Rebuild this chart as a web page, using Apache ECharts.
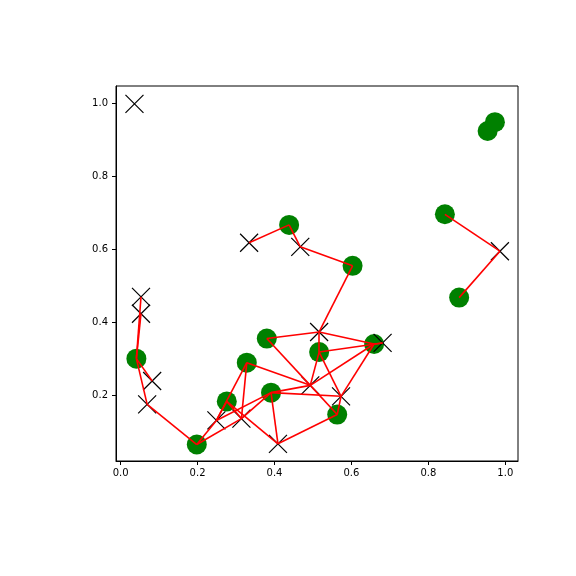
<!DOCTYPE html>
<html>
<head>
<meta charset="utf-8">
<script src="https://cdn.jsdelivr.net/npm/echarts@6/dist/echarts.min.js"></script>
<style>html,body{margin:0;padding:0;background:#fff;}#c{width:576px;height:576px;}</style>
</head>
<body>
<div id="c"></div>
<script>
// green circle points
var greenX = [0.438, 0.973, 0.954, 0.843, 0.603, 0.880, 0.041, 0.380, 0.328, 0.391, 0.276, 0.198, 0.516, 0.659, 0.563];
var greenY = [0.667, 0.948, 0.924, 0.696, 0.555, 0.468, 0.301, 0.356, 0.290, 0.208, 0.184, 0.066, 0.319, 0.341, 0.148];
// black cross points
var crossX = [0.036, 0.334, 0.467, 0.986, 0.053, 0.053, 0.082, 0.069, 0.249, 0.314, 0.409, 0.516, 0.493, 0.573, 0.681];
var crossY = [0.998, 0.618, 0.607, 0.595, 0.470, 0.424, 0.240, 0.176, 0.132, 0.137, 0.068, 0.374, 0.228, 0.198, 0.344];
// edges: green index -> cross index
var edgeGreen = [0, 0, 3, 4, 4, 5, 6, 6, 6, 6, 7, 7, 8, 8, 8, 9, 9, 9, 9, 9, 10, 10, 10, 11, 11, 11, 12, 12, 12, 12, 13, 13, 13, 13, 14, 14, 14];
var edgeCross = [1, 2, 3, 2, 11, 3, 4, 5, 6, 7, 11, 12, 8, 9, 12, 8, 9, 10, 12, 13, 8, 9, 10, 7, 8, 9, 11, 12, 13, 14, 11, 12, 13, 14, 10, 12, 13];
var ticks = [0.0, 0.2, 0.4, 0.6, 0.8, 1.0];
var yTicks = [0.2, 0.4, 0.6, 0.8, 1.0];

var greens = greenX.map(function (x, i) { return [x, greenY[i]]; });
var crosses = crossX.map(function (x, i) { return [x, crossY[i]]; });
var edges = edgeGreen.map(function (g, i) { return { coords: [greens[g], crosses[edgeCross[i]]] }; });

var font = { fontFamily: 'DejaVu Sans', fontSize: 10, color: '#000' };
var chart = echarts.init(document.getElementById('c'), null, { renderer: 'canvas' });
chart.setOption({
  animation: false,
  backgroundColor: '#fff',
  grid: { left: 116, right: 58, top: 86, bottom: 115, show: true, borderColor: '#000', borderWidth: 1, backgroundColor: 'transparent' },
  xAxis: {
    type: 'value', min: -0.012, max: 1.033,
    splitLine: { show: false },
    axisLine: { show: true, onZero: false, lineStyle: { color: '#000', width: 1 } },
    axisTick: { show: true, length: 4, lineStyle: { color: '#000' }, customValues: ticks },
    axisLabel: Object.assign({ margin: 7, customValues: ticks, formatter: function (v) { return v.toFixed(1); } }, font)
  },
  yAxis: {
    type: 'value', min: 0.021, max: 1.047,
    splitLine: { show: false },
    axisLine: { show: true, onZero: false, lineStyle: { color: '#000', width: 1 } },
    axisTick: { show: true, length: 4, lineStyle: { color: '#000' }, customValues: yTicks },
    axisLabel: Object.assign({ margin: 8, customValues: yTicks, formatter: function (v) { return v.toFixed(1); } }, font)
  },
  series: [
    {
      type: 'scatter', data: greens, symbol: 'circle', symbolSize: 20,
      itemStyle: { color: '#008000', opacity: 1 }, z: 2
    },
    {
      type: 'scatter', data: crosses, symbol: 'path://M0,0L10,10M10,0L0,10', symbolSize: 18,
      itemStyle: { color: 'none', borderColor: '#000', borderWidth: 1.2, opacity: 1 }, z: 3
    },
    {
      type: 'lines', coordinateSystem: 'cartesian2d', data: edges,
      lineStyle: { color: '#ff0000', width: 1.6, opacity: 1 }, z: 4
    }
  ]
});
</script>
</body>
</html>
